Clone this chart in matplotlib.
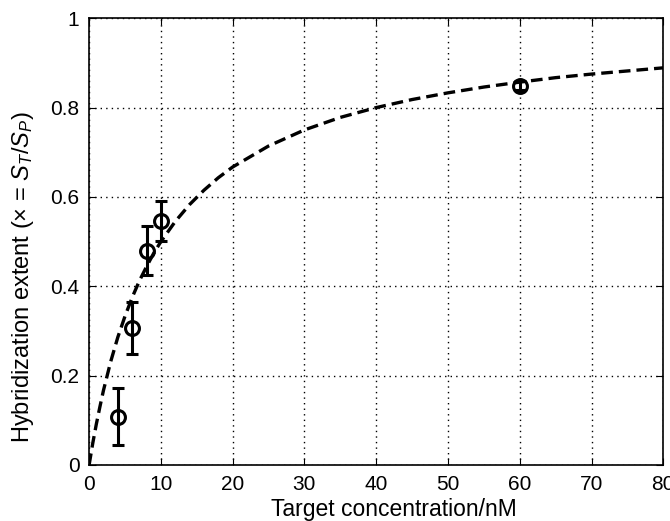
import matplotlib
matplotlib.use("Agg")
import matplotlib.pyplot as plt

plt.rcParams["font.family"] = ["Liberation Sans", "DejaVu Sans"]
plt.rcParams["mathtext.fontset"] = "custom"
plt.rcParams["mathtext.rm"] = "Liberation Sans"
plt.rcParams["mathtext.it"] = "Liberation Sans:italic"

# measured points
conc = [4, 6, 8, 10, 60]
extent = [0.108, 0.307, 0.48, 0.547, 0.849]
extent_err = [0.064, 0.058, 0.055, 0.045, 0.01]

# fitted curve
fit_conc = [0, 0.5, 1, 1.5, 2, 3, 4, 5, 6, 7, 8, 9, 10, 12, 14, 16, 18, 20,
            25, 30, 35, 40, 45, 50, 55, 60, 65, 70, 75, 80]
fit_extent = [0.0, 0.048, 0.091, 0.13, 0.167, 0.231, 0.286, 0.333, 0.375,
              0.412, 0.444, 0.474, 0.5, 0.545, 0.583, 0.615, 0.643, 0.667,
              0.714, 0.75, 0.778, 0.8, 0.818, 0.833, 0.846, 0.857, 0.867,
              0.875, 0.882, 0.889]

fig = plt.figure(figsize=(6.7, 5.21), dpi=100)
ax = fig.add_axes([0.133, 0.1075, 0.857, 0.8575])

ax.plot(fit_conc, fit_extent, color="black", linestyle=(0, (3.5, 1.8)), linewidth=2.4)
ax.errorbar(conc, extent, yerr=extent_err, fmt="o", mfc="none", mec="black",
            ecolor="black", markersize=10, markeredgewidth=2.2, elinewidth=2.2,
            capsize=4.5, capthick=2.2)

ax.set_xlim(0, 80)
ax.set_ylim(0, 1)
ax.set_xticks(range(0, 81, 10))
ax.set_yticks([0, 0.2, 0.4, 0.6, 0.8, 1])
ax.set_yticklabels(["0", "0.2", "0.4", "0.6", "0.8", "1"])
ax.grid(True, color="black", linestyle=(0, (1, 3)), linewidth=1)
ax.tick_params(direction="in", top=True, right=True, labelsize=15, length=5, pad=7)
for s in ax.spines.values():
    s.set_linewidth(1.2)

ax.set_xlabel("Target concentration/nM", fontsize=16.5)
ax.xaxis.set_label_coords(0.53, -0.075)
ax.set_ylabel(r"Hybridization extent (× = $S_T$/$S_P$)", fontsize=17)
ax.yaxis.set_label_coords(-0.093, 0.42)

fig.savefig("out.png", dpi=100)
